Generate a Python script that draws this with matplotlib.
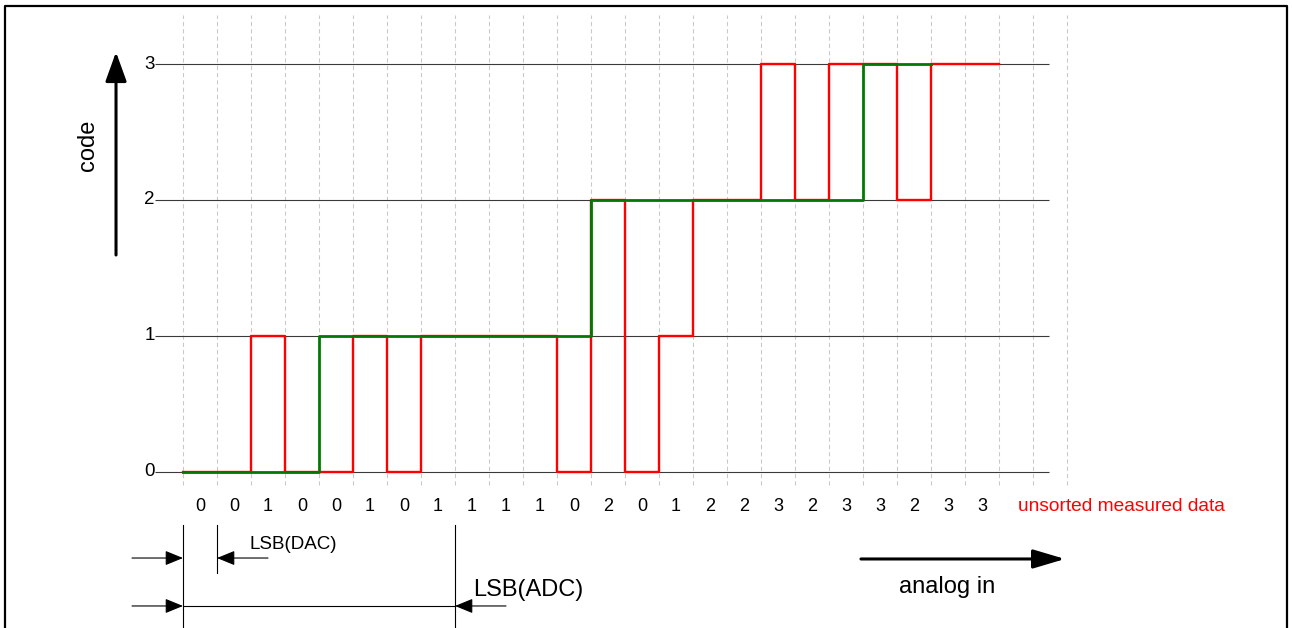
import matplotlib
matplotlib.use('Agg')
import matplotlib.pyplot as plt

plt.rcParams['font.family'] = ['Liberation Sans', 'DejaVu Sans']

# unsorted measured ADC codes, one per DAC step
measured = [0, 0, 1, 0, 0, 1, 0, 1, 1, 1, 1, 0, 2, 0, 1, 2, 2, 3, 2, 3, 3, 2, 3, 3]
# ideal (sorted) transfer curve
ideal = [0, 0, 0, 0, 1, 1, 1, 1, 1, 1, 1, 1, 2, 2, 2, 2, 2, 2, 2, 2, 3, 3]
codes = [0, 1, 2, 3]
n_grid = 27          # dashed DAC step lines
lsb_adc = 8          # DAC steps per ADC LSB

fig = plt.figure(figsize=(12.92, 6.28), dpi=100)
ax = fig.add_axes([0, 0, 1, 1])
# 1 DAC step = 34 px, 1 code = 135.83 px
ax.set_xlim(-183 / 34, (1292 - 183) / 34)
ax.set_ylim((471.5 - 628) / 135.83, 471.5 / 135.83)
ax.axis('off')

# outer frame
ax.plot([-5.235, -5.235, 32.47, 32.47], [-1.4, 3.427, 3.427, -1.4],
        color='black', lw=1.6, clip_on=False)

# grid
for i in range(n_grid):
    ax.plot([i, i], [-0.1, 3.36], color='#c8c8c8', lw=0.75,
            linestyle=(0, (4, 3)), zorder=1)
ax.hlines(codes, -0.82, 25.47, color='#3a3a3a', lw=0.8, zorder=2)
for c in codes:
    ax.text(-0.99, c, str(c), ha='center', va='center', fontsize=13.5)

# data
ax.step(range(len(measured) + 1), measured + measured[-1:], where='post',
        color='#ff0000', lw=1.7, zorder=3)
ax.step(range(len(ideal) + 1), ideal + ideal[-1:], where='post',
        color='#007a00', lw=2.0, zorder=4)

# measured values under each step
for i, v in enumerate(measured):
    ax.text(i + 0.5, -0.261, str(v), ha='center', va='center', fontsize=13)
ax.text(24.57, -0.261, 'unsorted measured data', ha='left', va='center',
        fontsize=13.8, color='#ff0000')

# code axis arrow
ax.annotate('', xy=(-1.97, 3.088), xytext=(-1.97, 1.594),
            arrowprops=dict(arrowstyle='-|>,head_length=1.8,head_width=0.65',
                            mutation_scale=10, lw=2.2, color='black',
                            shrinkA=0, shrinkB=0))
ax.text(-2.8, 2.40, 'code', rotation=90, ha='center', va='center', fontsize=17)

# analog in arrow
ax.annotate('', xy=(25.94, -0.644), xytext=(19.94, -0.644),
            arrowprops=dict(arrowstyle='-|>,head_length=1.95,head_width=0.58',
                            mutation_scale=10, lw=2.2, color='black',
                            shrinkA=0, shrinkB=0))
ax.text(22.47, -0.85, 'analog in', ha='center', va='center', fontsize=17)

# LSB dimension lines
ax.plot([0, 0], [-0.394, -1.3], color='black', lw=0.8, clip_on=False)
ax.plot([1, 1], [-0.394, -0.747], color='black', lw=0.8)
ax.plot([lsb_adc, lsb_adc], [-0.394, -1.3], color='black', lw=0.8, clip_on=False)
ax.plot([0, lsb_adc], [-0.99, -0.99], color='black', lw=0.8)

small = dict(arrowstyle='-|>,head_length=1.1,head_width=0.45',
             mutation_scale=10, lw=0.8, color='black', shrinkA=0, shrinkB=0)
ax.annotate('', xy=(0, -0.637), xytext=(-1.5, -0.637), arrowprops=small)
ax.annotate('', xy=(1, -0.637), xytext=(2.5, -0.637), arrowprops=small)
ax.annotate('', xy=(0, -0.99), xytext=(-1.5, -0.99), arrowprops=small)
ax.annotate('', xy=(lsb_adc, -0.99), xytext=(lsb_adc + 1.5, -0.99), arrowprops=small)
ax.text(1.97, -0.541, 'LSB(DAC)', ha='left', va='center', fontsize=13.5)
ax.text(8.53, -0.872, 'LSB(ADC)', ha='left', va='center', fontsize=17)

fig.savefig('out.png', dpi=100)
